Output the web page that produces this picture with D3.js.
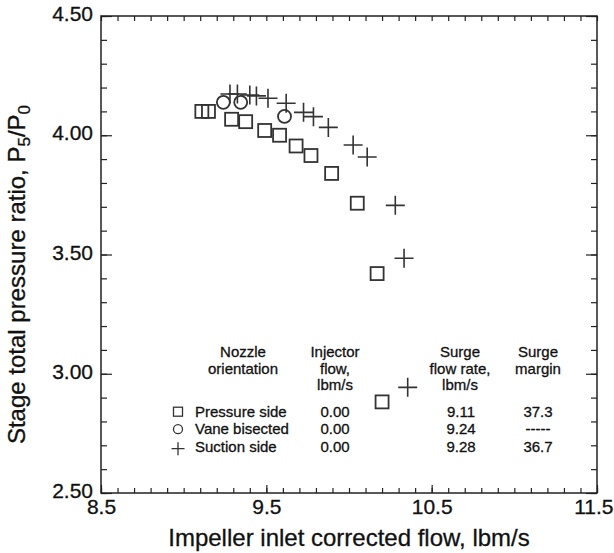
<!DOCTYPE html>
<html>
<head>
<meta charset="utf-8">
<script src="https://cdn.jsdelivr.net/npm/d3@7"></script>
<style>
body { margin: 0; background: #fff; }
text { font-family: "Liberation Sans", Arial, Helvetica, sans-serif; fill: #111; stroke: #111; stroke-width: 0.3px; }
</style>
</head>
<body>
<div id="chart"></div>
<script>
// values
var pressureFlow  = [9.11, 9.15, 9.29, 9.375, 9.49, 9.58, 9.68, 9.77, 9.895, 10.05, 10.17, 10.20];
var pressureRatio = [4.10, 4.10, 4.067, 4.057, 4.02, 4.00, 3.955, 3.915, 3.84, 3.715, 3.42, 2.882];

var vaneFlow  = [9.24, 9.345, 9.61];
var vaneRatio = [4.138, 4.138, 4.079];

var suctionFlow  = [9.28, 9.325, 9.40, 9.44, 9.51, 9.62, 9.725, 9.785, 9.875, 10.025, 10.11, 10.28, 10.333, 10.355];
var suctionRatio = [4.173, 4.173, 4.169, 4.165, 4.155, 4.134, 4.096, 4.078, 4.033, 3.959, 3.909, 3.706, 3.484, 2.943];

var xTicks = [8.5, 9.5, 10.5, 11.5];
var yTicks = [2.5, 3.0, 3.5, 4.0, 4.5];

var tableRows    = ["Pressure side", "Vane bisected", "Suction side"];
var injectorFlow = ["0.00", "0.00", "0.00"];
var surgeFlow    = ["9.11", "9.24", "9.28"];
var surgeMargin  = ["37.3", "-----", "36.7"];

var margin = {top: 16, right: 17, bottom: 60, left: 101};
var width = 614 - margin.left - margin.right;
var height = 553 - margin.top - margin.bottom;

var svg = d3.select("#chart").append("svg")
    .attr("width", 614)
    .attr("height", 553)
  .append("g")
    .attr("transform", "translate(" + margin.left + "," + margin.top + ")");

var x = d3.scaleLinear().domain([8.5, 11.5]).range([0, width]);
var y = d3.scaleLinear().domain([2.5, 4.5]).range([height, 0]);

var xMinor = d3.range(85, 116).map(function (d) { return d / 10; });
var yMinor = d3.range(25, 46).map(function (d) { return d / 10; });

function clean(g) {
  g.select(".domain").remove();
  g.selectAll("line").attr("stroke", "#222").attr("stroke-width", 1.2);
}

// minor ticks, all four sides, pointing inward
svg.append("g").attr("transform", "translate(0," + height + ")")
  .call(d3.axisBottom(x).tickValues(xMinor).tickSize(-5).tickFormat(""))
  .call(clean);
svg.append("g")
  .call(d3.axisTop(x).tickValues(xMinor).tickSize(-5).tickFormat(""))
  .call(clean);
svg.append("g")
  .call(d3.axisLeft(y).tickValues(yMinor).tickSize(-6).tickFormat(""))
  .call(clean);
svg.append("g").attr("transform", "translate(" + width + ",0)")
  .call(d3.axisRight(y).tickValues(yMinor).tickSize(-6).tickFormat(""))
  .call(clean);

// major ticks with labels
var xLab = svg.append("g").attr("transform", "translate(0," + height + ")")
  .call(d3.axisBottom(x).tickValues(xTicks).tickSize(-8).tickPadding(6).tickFormat(d3.format(".1f")))
  .call(clean);
xLab.selectAll("text").attr("font-size", 21).attr("fill", "#111");
// keep the last label inside the page
xLab.selectAll("text").filter(function (d) { return d === 11.5; })
  .attr("text-anchor", "end").attr("x", 16);

svg.append("g")
  .call(d3.axisLeft(y).tickValues(yTicks).tickSize(-11).tickPadding(8).tickFormat(d3.format(".2f")))
  .call(clean)
  .selectAll("text").attr("font-size", 21).attr("dy", "0.22em").attr("fill", "#111");
svg.append("g").attr("transform", "translate(" + width + ",0)")
  .call(d3.axisRight(y).tickValues(yTicks).tickSize(-11).tickFormat(""))
  .call(clean);

// frame
svg.append("rect")
  .attr("width", width).attr("height", height)
  .attr("fill", "none").attr("stroke", "#222").attr("stroke-width", 1.5);

// axis titles
svg.append("text")
  .attr("x", width / 2).attr("y", height + 53)
  .attr("text-anchor", "middle").attr("font-size", 24)
  .text("Impeller inlet corrected flow, lbm/s");

var yt = svg.append("text")
  .attr("transform", "translate(" + (-76) + "," + (height / 2 + 20) + ") rotate(-90)")
  .attr("text-anchor", "middle").attr("font-size", 24);
yt.append("tspan").text("Stage total pressure ratio, P");
yt.append("tspan").attr("font-size", 17).attr("dy", 5).text("5");
yt.append("tspan").attr("dy", -5).text("/P");
yt.append("tspan").attr("font-size", 17).attr("dy", 5).text("0");

// markers
var sq = 13, markStroke = "#333";
svg.selectAll(".sq").data(pressureFlow).enter().append("rect")
  .attr("class", "sq")
  .attr("x", function (d) { return x(d) - sq / 2; })
  .attr("y", function (d, i) { return y(pressureRatio[i]) - sq / 2; })
  .attr("width", sq).attr("height", sq)
  .attr("fill", "none").attr("stroke", markStroke).attr("stroke-width", 1.8);

svg.selectAll(".ci").data(vaneFlow).enter().append("circle")
  .attr("class", "ci")
  .attr("cx", function (d) { return x(d); })
  .attr("cy", function (d, i) { return y(vaneRatio[i]); })
  .attr("r", 6.5)
  .attr("fill", "none").attr("stroke", markStroke).attr("stroke-width", 1.8);

svg.selectAll(".pl").data(suctionFlow).enter().append("path")
  .attr("class", "pl")
  .attr("transform", function (d, i) { return "translate(" + x(d) + "," + y(suctionRatio[i]) + ")"; })
  .attr("d", "M-9.5,0H9.5M0,-9.5V9.5")
  .attr("fill", "none").attr("stroke", markStroke).attr("stroke-width", 1.6);

// table key
var tbl = svg.append("g").attr("font-size", 15);
function header(cx, lines) {
  lines.forEach(function (t, i) {
    tbl.append("text").attr("x", cx - margin.left).attr("y", 357 - margin.top + i * 16.7)
      .attr("text-anchor", "middle").attr("font-size", 15).text(t);
  });
}
header(243, ["Nozzle", "orientation"]);
header(335, ["Injector", "flow,", "lbm/s"]);
header(460, ["Surge", "flow rate,", "lbm/s"]);
header(538, ["Surge", "margin"]);

tableRows.forEach(function (name, i) {
  var by = 416.7 - margin.top + i * 17.5;
  var cy = by - 5;
  var sx = 178 - margin.left;
  if (i === 0) {
    tbl.append("rect").attr("x", sx - 4.5).attr("y", cy - 4.5).attr("width", 9).attr("height", 9)
      .attr("fill", "none").attr("stroke", markStroke).attr("stroke-width", 1.3);
  } else if (i === 1) {
    tbl.append("circle").attr("cx", sx).attr("cy", cy).attr("r", 4.5)
      .attr("fill", "none").attr("stroke", markStroke).attr("stroke-width", 1.3);
  } else {
    tbl.append("path").attr("transform", "translate(" + sx + "," + (cy + 2) + ")")
      .attr("d", "M-6.5,0H6.5M0,-6.5V6.5")
      .attr("fill", "none").attr("stroke", markStroke).attr("stroke-width", 1.3);
  }
  tbl.append("text").attr("x", 195 - margin.left).attr("y", by).attr("font-size", 15).text(name);
  tbl.append("text").attr("x", 335 - margin.left).attr("y", by).attr("text-anchor", "middle").attr("font-size", 15).text(injectorFlow[i]);
  tbl.append("text").attr("x", 461 - margin.left).attr("y", by).attr("text-anchor", "middle").attr("font-size", 15).text(surgeFlow[i]);
  tbl.append("text").attr("x", 538 - margin.left).attr("y", by).attr("text-anchor", "middle").attr("font-size", 15).text(surgeMargin[i]);
});
</script>
</body>
</html>
